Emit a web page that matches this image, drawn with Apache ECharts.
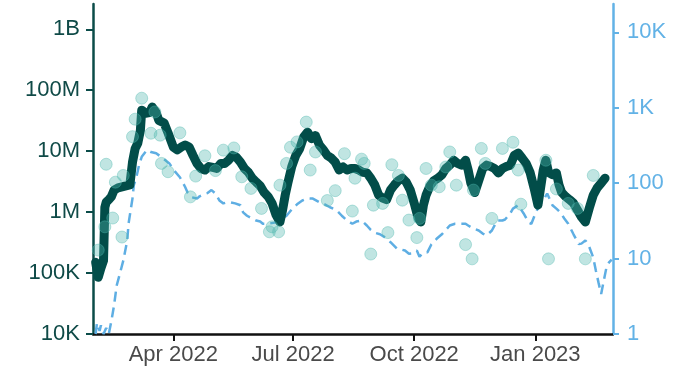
<!DOCTYPE html>
<html>
<head>
<meta charset="utf-8">
<script src="https://cdn.jsdelivr.net/npm/echarts@6/dist/echarts.min.js"></script>
<style>
html,body{margin:0;padding:0;background:#fff;}
#chart{width:687px;height:374px;}
</style>
</head>
<body>
<div id="chart"></div>
<script>
// ---- data ----
var lineDates = ['2022-02-01','2022-02-03','2022-02-05','2022-02-07','2022-02-08','2022-02-09','2022-02-11','2022-02-13','2022-02-15','2022-02-18','2022-02-21','2022-02-24','2022-02-27','2022-03-01','2022-03-03','2022-03-05','2022-03-07','2022-03-08','2022-03-11','2022-03-14','2022-03-16','2022-03-19','2022-03-21','2022-03-25','2022-03-28','2022-04-01','2022-04-04','2022-04-07','2022-04-10','2022-04-13','2022-04-16','2022-04-19','2022-04-22','2022-04-25','2022-04-28','2022-05-01','2022-05-04','2022-05-07','2022-05-10','2022-05-13','2022-05-16','2022-05-19','2022-05-22','2022-05-25','2022-05-28','2022-05-31','2022-06-03','2022-06-06','2022-06-09','2022-06-12','2022-06-15','2022-06-18','2022-06-21','2022-06-23','2022-06-25','2022-06-27','2022-06-30','2022-07-03','2022-07-06','2022-07-09','2022-07-12','2022-07-15','2022-07-18','2022-07-21','2022-07-24','2022-07-27','2022-07-30','2022-08-02','2022-08-05','2022-08-08','2022-08-11','2022-08-14','2022-08-17','2022-08-20','2022-08-23','2022-08-26','2022-08-29','2022-09-01','2022-09-04','2022-09-07','2022-09-10','2022-09-13','2022-09-16','2022-09-19','2022-09-22','2022-09-25','2022-09-28','2022-10-01','2022-10-04','2022-10-06','2022-10-08','2022-10-10','2022-10-13','2022-10-16','2022-10-19','2022-10-22','2022-10-25','2022-10-28','2022-10-31','2022-11-03','2022-11-06','2022-11-09','2022-11-11','2022-11-13','2022-11-16','2022-11-19','2022-11-22','2022-11-25','2022-11-28','2022-12-01','2022-12-04','2022-12-07','2022-12-10','2022-12-13','2022-12-16','2022-12-19','2022-12-22','2022-12-25','2022-12-28','2022-12-31','2023-01-03','2023-01-05','2023-01-07','2023-01-09','2023-01-11','2023-01-14','2023-01-17','2023-01-19','2023-01-21','2023-01-24','2023-01-27','2023-01-30','2023-02-02','2023-02-05','2023-02-08','2023-02-11','2023-02-14','2023-02-17','2023-02-20','2023-02-23'];
var lineValues = [150000,85000,120000,160000,1200000,1450000,1600000,1800000,2300000,2500000,2600000,2700000,2800000,6600000,11000000,13500000,22000000,47000000,42000000,43000000,53000000,43000000,32000000,29000000,20000000,11700000,10500000,11700000,12600000,11700000,8500000,6300000,5200000,4900000,5600000,5400000,5200000,6300000,6300000,7100000,8500000,7900000,6600000,5200000,4500000,3600000,3100000,2700000,2100000,1800000,1400000,900000,690000,1080000,1900000,3000000,5600000,8500000,11000000,17000000,20500000,16000000,18000000,12600000,10500000,8500000,7700000,6600000,4900000,5500000,4900000,5200000,5200000,4900000,4500000,4400000,3600000,2800000,1900000,1700000,1600000,2300000,2800000,3300000,3600000,3100000,2300000,1400000,800000,690000,1300000,1900000,2700000,3300000,3600000,4100000,5200000,5900000,7100000,6300000,5900000,7100000,4900000,3000000,2100000,3300000,5200000,5900000,5600000,5200000,4400000,5200000,5600000,5900000,8500000,9300000,7700000,6300000,4500000,2500000,1300000,2500000,4900000,7100000,4500000,4100000,4400000,2800000,2100000,1800000,1600000,1400000,1080000,830000,690000,1170000,1900000,2500000,3000000,3600000];

var dotDates = ['2022-02-03','2022-02-08','2022-02-09','2022-02-14','2022-02-16','2022-02-21','2022-02-22','2022-03-01','2022-03-03','2022-03-08','2022-03-15','2022-03-18','2022-03-22','2022-03-23','2022-03-28','2022-04-06','2022-04-14','2022-04-18','2022-04-25','2022-05-03','2022-05-09','2022-05-17','2022-05-23','2022-05-30','2022-06-07','2022-06-13','2022-06-15','2022-06-20','2022-06-21','2022-06-26','2022-06-29','2022-07-04','2022-07-11','2022-07-14','2022-07-18','2022-07-27','2022-08-02','2022-08-09','2022-08-15','2022-08-17','2022-08-22','2022-08-24','2022-08-29','2022-08-31','2022-09-07','2022-09-11','2022-09-14','2022-09-19','2022-09-22','2022-09-27','2022-10-03','2022-10-05','2022-10-10','2022-10-14','2022-10-20','2022-10-25','2022-10-28','2022-11-02','2022-11-09','2022-11-14','2022-11-15','2022-11-21','2022-11-24','2022-11-29','2022-12-07','2022-12-15','2022-12-19','2022-12-21','2023-01-09','2023-01-11','2023-01-17','2023-01-26','2023-02-02','2023-02-08','2023-02-14'];
var dotValues = [238000,574000,6100000,800000,3100000,390000,4000000,17300000,33500000,74000000,19700000,44000000,18300000,6300000,4600000,20000000,1780000,3900000,8400000,4800000,10400000,11300000,3800000,2450000,1150000,475000,574000,475000,2770000,6300000,11600000,14200000,30000000,4900000,9700000,1550000,2250000,9100000,1040000,3600000,7400000,6300000,205000,1300000,1390000,461000,6000000,4000000,1570000,740000,382000,789000,5200000,2770000,2600000,5500000,9700000,2770000,293000,171000,2300000,11100000,6300000,789000,11100000,14000000,4900000,1350000,7100000,171000,2400000,1390000,1150000,171000,4000000];

var dashDates = ['2022-02-01','2022-02-02','2022-02-04','2022-02-05','2022-02-07','2022-02-09','2022-02-11','2022-02-13','2022-02-15','2022-02-17','2022-02-20','2022-02-22','2022-02-25','2022-02-26','2022-03-01','2022-03-02','2022-03-04','2022-03-06','2022-03-08','2022-03-12','2022-03-15','2022-03-19','2022-03-24','2022-03-29','2022-04-02','2022-04-06','2022-04-10','2022-04-12','2022-04-15','2022-04-19','2022-04-21','2022-04-24','2022-04-27','2022-04-30','2022-05-03','2022-05-06','2022-05-09','2022-05-12','2022-05-14','2022-05-18','2022-05-22','2022-05-24','2022-05-27','2022-05-31','2022-06-03','2022-06-06','2022-06-08','2022-06-12','2022-06-17','2022-06-22','2022-06-26','2022-06-30','2022-07-04','2022-07-08','2022-07-12','2022-07-16','2022-07-21','2022-07-25','2022-07-29','2022-08-03','2022-08-07','2022-08-11','2022-08-15','2022-08-18','2022-08-22','2022-08-26','2022-08-29','2022-09-01','2022-09-05','2022-09-09','2022-09-13','2022-09-18','2022-09-21','2022-09-24','2022-09-27','2022-09-29','2022-10-03','2022-10-05','2022-10-08','2022-10-11','2022-10-14','2022-10-18','2022-10-22','2022-10-25','2022-10-28','2022-11-01','2022-11-05','2022-11-09','2022-11-11','2022-11-15','2022-11-19','2022-11-22','2022-11-25','2022-11-29','2022-12-03','2022-12-07','2022-12-09','2022-12-13','2022-12-15','2022-12-19','2022-12-23','2022-12-27','2022-12-29','2023-01-01','2023-01-04','2023-01-07','2023-01-10','2023-01-14','2023-01-17','2023-01-20','2023-01-23','2023-01-26','2023-01-30','2023-02-03','2023-02-05','2023-02-08','2023-02-10','2023-02-12','2023-02-14','2023-02-16','2023-02-18','2023-02-20','2023-02-22','2023-02-24','2023-02-26','2023-02-28'];
var dashValues = [1.0,1.4,1.1,1.3,1.0,1.2,1.0,1.5,2.4,4.4,6.9,9.4,17.4,29,63,94,121,174,224,275,259,249,215,183,145,120,89,74,65,62.5,67,71,74,81,73,59,54,56,56,54,51,41,37,34,32,31,29,29,30,33,37,45,52.5,59,63,62.5,56,52.5,48,44,37,32,29,31,32,27.5,24,22,21,19,16.5,13.5,13.2,12.8,11.6,11.7,12.8,10.6,12,12.1,15.4,18.3,21,24,27.5,29,29,29,27.5,25,23.6,21.5,20.3,23.6,32,32,33,40,46,51,40,30,29,39.5,51,59,73,51,46,41,34,29,21,15.6,15.8,17.4,15.8,12.8,10.3,6.9,4.8,3.4,5.1,7.6,8.9,9.7];

var xTickDates = ['2022-04-01','2022-07-01','2022-10-01','2023-01-01'];
var xTickLabels = ['Apr 2022','Jul 2022','Oct 2022','Jan 2023'];
var leftTickValues = [1e4,1e5,1e6,1e7,1e8,1e9];
var leftTickLabels = ['10K','100K','1M','10M','100M','1B'];
var rightTickValues = [1,10,100,1000,10000];
var rightTickLabels = ['1','10','100','1K','10K'];
var xRange = ['2022-01-30','2023-03-01'];

// ---- helpers ----
function ts(s){ var p = s.split('-').map(Number); return Date.UTC(p[0], p[1]-1, p[2]); }
function pairs(ds, vs){ return ds.map(function(d,i){ return [ts(d), vs[i]]; }); }
function lookup(vals, labels, v){
  var best = -1, bd = Infinity;
  for (var i=0;i<vals.length;i++){ var dd = Math.abs(vals[i]-v)/Math.max(1,Math.abs(vals[i])); if (dd < bd){ bd = dd; best = i; } }
  return bd < 0.01 ? labels[best] : '';
}
var xTickTs = xTickDates.map(ts);

var FONT = '"Liberation Sans", Arial, Helvetica, sans-serif';
var chart = echarts.init(document.getElementById('chart'), null, {renderer:'canvas'});
chart.setOption({
  animation:false,
  backgroundColor:'#ffffff',
  grid:{left:93, right:74, top:4, bottom:40, containLabel:false},
  xAxis:{
    type:'value',
    min: ts(xRange[0]), max: ts(xRange[1]),
    axisLine:{show:true, lineStyle:{color:'#111', width:2.5}},
    axisTick:{show:true, length:7, lineStyle:{color:'#111', width:2}, customValues: xTickTs},
    axisLabel:{show:true, customValues: xTickTs, margin:10, fontSize:22, fontFamily:FONT, color:'#4a4a4a',
      formatter:function(v){ var best=-1, bd=Infinity; for(var k=0;k<xTickTs.length;k++){ var d=Math.abs(xTickTs[k]-v); if(d<bd){bd=d;best=k;} } return bd < 86400000 ? xTickLabels[best] : ''; }},
    splitLine:{show:false}
  },
  yAxis:[{
    type:'log', logBase:10, position:'left',
    min:1e4, max:2.6e9,
    axisLine:{show:true, lineStyle:{color:'#0b4c49', width:2.5}},
    axisTick:{show:true, length:7, lineStyle:{color:'#0b4c49', width:2}, customValues: leftTickValues},
    axisLabel:{show:true, customValues: leftTickValues, margin:13, fontSize:22, fontFamily:FONT, color:'#0f4a47',
      formatter:function(v){ return lookup(leftTickValues, leftTickLabels, v); }},
    splitLine:{show:false}
  },{
    type:'log', logBase:10, position:'right',
    min:1, max:23800,
    axisLine:{show:true, lineStyle:{color:'#62b2e6', width:2.5}},
    axisTick:{show:true, length:6, lineStyle:{color:'#62b2e6', width:2}, customValues: rightTickValues},
    axisLabel:{show:true, customValues: rightTickValues, margin:14, fontSize:22, fontFamily:FONT, color:'#62b2e6',
      formatter:function(v){ return lookup(rightTickValues, rightTickLabels, v); }},
    splitLine:{show:false}
  }],
  series:[{
    type:'line', yAxisIndex:1, z:1,
    data: pairs(dashDates, dashValues),
    showSymbol:false, symbol:'none',
    lineStyle:{color:'#5eaee3', width:2.5, type:[10,6]}
  },{
    type:'line', yAxisIndex:0, z:2,
    data: pairs(lineDates, lineValues),
    showSymbol:false, symbol:'none',
    lineStyle:{color:'#024d49', width:9, cap:'round', join:'round'}
  },{
    type:'scatter', yAxisIndex:0, z:3,
    data: pairs(dotDates, dotValues),
    symbolSize:12,
    itemStyle:{color:'rgba(79,184,176,0.45)', borderColor:'rgba(79,184,176,0.5)', borderWidth:1}
  }]
});
</script>
</body>
</html>
